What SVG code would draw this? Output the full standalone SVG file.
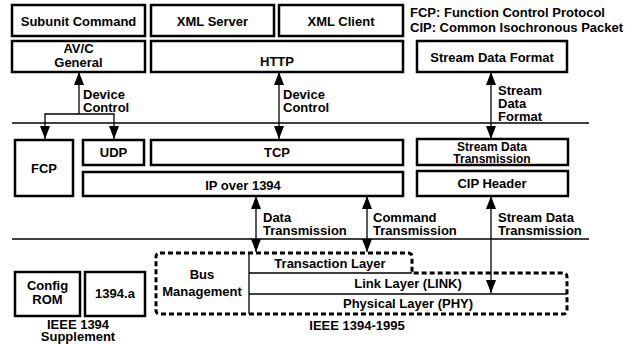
<svg xmlns="http://www.w3.org/2000/svg" width="640" height="344" viewBox="0 0 640 344">
<defs>
<style>
text{font-family:"Liberation Sans",Arial,sans-serif;font-weight:bold;font-size:13px;fill:#000}
.c{text-anchor:middle}
.s{font-size:12px}
.box{fill:#fff;stroke:#000;stroke-width:2.5}
.ln{fill:none;stroke:#000;stroke-width:1.3}
.sep{fill:none;stroke:#000;stroke-width:1.3}
.dash{fill:none;stroke:#000;stroke-width:3;stroke-dasharray:5 3}
</style>
<marker id="ah" viewBox="0 0 13 10" refX="13" refY="5" markerWidth="13" markerHeight="10" markerUnits="userSpaceOnUse" orient="auto-start-reverse">
<path d="M0,0 L13,5 L0,10 Z" fill="#000"/>
</marker>
</defs>
<rect width="640" height="344" fill="#fff"/>

<g id="separators">
<line class="sep" x1="12" y1="123" x2="589" y2="123"/>
<line class="sep" x1="12" y1="239" x2="589" y2="239"/>
</g>

<g id="legend">
<text x="410" y="17">FCP: Function Control Protocol</text>
<text x="410" y="32">CIP: Common Isochronous Packet</text>
</g>

<g id="subunit"><rect class="box" x="12" y="5" width="133" height="31"/><text class="c" x="78.5" y="26">Subunit Command</text></g>
<g id="xmlserver"><rect class="box" x="151" y="5" width="123" height="31"/><text class="c" x="212.5" y="26">XML Server</text></g>
<g id="xmlclient"><rect class="box" x="279" y="5" width="124" height="31"/><text class="c" x="341" y="26">XML Client</text></g>
<g id="avc"><rect class="box" x="12" y="41" width="133" height="31"/><text class="c" x="78.5" y="53">AV/C</text><text class="c" x="78.5" y="67">General</text></g>
<g id="http"><rect class="box" x="151" y="41" width="252" height="31"/><text class="c" x="277" y="66">HTTP</text></g>
<g id="sdf"><rect class="box" x="417" y="41" width="150" height="31"/><text class="c" x="492" y="62">Stream Data Format</text></g>

<g id="fcp"><rect class="box" x="15" y="140" width="58" height="56"/><text class="c" x="44" y="173">FCP</text></g>
<g id="udp"><rect class="box" x="83" y="140" width="61" height="25"/><text class="c" x="113.5" y="157">UDP</text></g>
<g id="tcp"><rect class="box" x="151" y="140" width="252" height="25"/><text class="c" x="277" y="157">TCP</text></g>
<g id="ip"><rect class="box" x="83" y="172" width="320" height="24"/><text class="c" x="243" y="190">IP over 1394</text></g>
<g id="sdt"><rect class="box" x="417" y="139" width="151" height="26"/><text class="c s" x="492" y="151">Stream Data</text><text class="c s" x="492" y="163">Transmission</text></g>
<g id="cip"><rect class="box" x="417" y="171" width="151" height="25"/><text class="c" x="492" y="188">CIP Header</text></g>

<g id="configrom"><rect class="box" x="15" y="272" width="65" height="44"/><text class="c" x="47.5" y="290">Config</text><text class="c" x="47.5" y="304">ROM</text></g>
<g id="p1394a"><rect class="box" x="85" y="272" width="60" height="44"/><text class="c" x="115" y="298">1394.a</text></g>
<g id="supplement"><text class="c" x="78" y="329">IEEE 1394</text><text class="c" x="78" y="341">Supplement</text></g>

<g id="ieee1394">
<path class="dash" d="M160,253 H408 Q412,253 412,257 V273 H563 Q567,273 567,277 V310 Q567,314 563,314 H160 Q156,314 156,310 V257 Q156,253 160,253 Z"/>
<line class="ln" x1="249" y1="253" x2="249" y2="314"/>
<line class="ln" x1="249" y1="273" x2="412" y2="273"/>
<line class="ln" x1="249" y1="294" x2="567" y2="294"/>
<text class="c" x="202" y="279">Bus</text>
<text class="c" x="202" y="296">Management</text>
<text class="c" x="330" y="268">Transaction Layer</text>
<text class="c" x="408" y="288">Link Layer (LINK)</text>
<text class="c" x="408" y="308">Physical Layer (PHY)</text>
<text class="c" x="357" y="330">IEEE 1394-1995</text>
</g>

<g id="connectors">
<path class="ln" d="M79,114 V72" marker-end="url(#ah)"/>
<path class="ln" d="M45,139 V114 H114 V139" marker-start="url(#ah)" marker-end="url(#ah)"/>
<path class="ln" d="M279,72 V139" marker-start="url(#ah)" marker-end="url(#ah)"/>
<path class="ln" d="M491,72 V139" marker-start="url(#ah)" marker-end="url(#ah)"/>
<path class="ln" d="M256,196 V252" marker-start="url(#ah)" marker-end="url(#ah)"/>
<path class="ln" d="M367,196 V252" marker-start="url(#ah)" marker-end="url(#ah)"/>
<path class="ln" d="M491,196 V293" marker-start="url(#ah)" marker-end="url(#ah)"/>
<text x="83" y="99">Device</text><text x="83" y="112">Control</text>
<text x="283" y="99">Device</text><text x="283" y="112">Control</text>
<text x="498" y="95">Stream</text><text x="498" y="108">Data</text><text x="498" y="121">Format</text>
<text x="263" y="222">Data</text><text x="263" y="235">Transmission</text>
<text x="373" y="222">Command</text><text x="373" y="235">Transmission</text>
<text x="498" y="222">Stream Data</text><text x="498" y="235">Transmission</text>
</g>
</svg>
